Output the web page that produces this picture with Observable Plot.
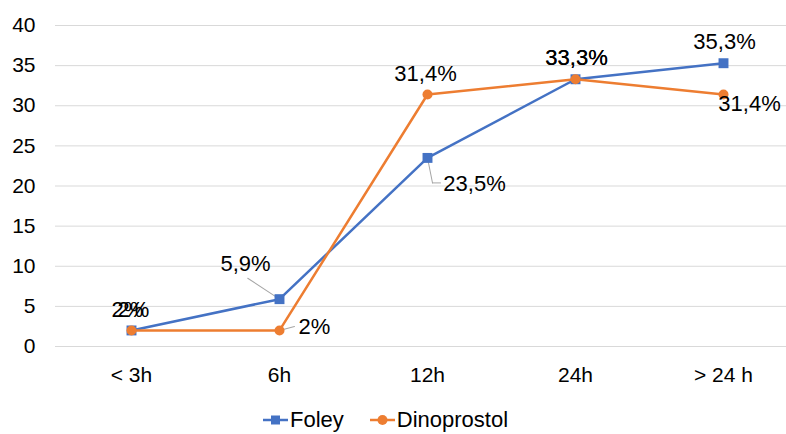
<!DOCTYPE html>
<html>
<head>
<meta charset="utf-8">
<script src="https://cdn.jsdelivr.net/npm/d3@7"></script>
<script src="https://cdn.jsdelivr.net/npm/@observablehq/plot@0.6"></script>
<style>
  body { margin: 0; background: #fff; font-family: "Liberation Sans", Arial, sans-serif; }
  #legend { display: flex; justify-content: center; gap: 26px; margin-top: 8px; margin-right: 15px;
            font-size: 22px; line-height: 24px; color: #000; }
  .item { display: flex; align-items: center; }
  .item svg { margin-right: 2px; }
</style>
</head>
<body>
<div id="chart"></div>
<div id="legend"></div>
<script>
const categories = ["< 3h", "6h", "12h", "24h", "> 24 h"];
const foley = [2, 5.9, 23.5, 33.3, 35.3];
const dinoprostol = [2, 2, 31.4, 33.3, 31.4];
const foleyLabels = ["2%", "5,9%", "23,5%", "33,3%", "35,3%"];
const dinoLabels = ["2%", "2%", "31,4%", "33,3%", "31,4%"];
const yTicks = [0, 5, 10, 15, 20, 25, 30, 35, 40];
const seriesNames = ["Foley", "Dinoprostol"];
const colors = ["#4472C4", "#ED7D31"];

const foleyData = categories.map((c, i) => ({cat: c, v: foley[i], label: foleyLabels[i]}));
const dinoData = categories.map((c, i) => ({cat: c, v: dinoprostol[i], label: dinoLabels[i]}));

// label placement (px offsets from the point)
const foleyOff = [[-4, -20], [-34, -35], [47, 26], [1, -21], [1, -21]];
const dinoOff = [[2, -20], [35, -3], [-2, -21], [1, -21], [26, 9]];

const segShape = {draw(ctx, l) { ctx.moveTo(0, 0); ctx.lineTo(0, -l); }};
const leader = (d, length, rotate, extra = {}) =>
  Plot.vector([d], {x: "cat", y: "v", length, rotate, anchor: "start", shape: segShape,
                    stroke: "#a6a6a6", strokeWidth: 1, ...extra});

const labelMarks = [];
foleyData.forEach((d, i) => labelMarks.push(Plot.text([d], {x: "cat", y: "v", text: "label",
  dx: foleyOff[i][0], dy: foleyOff[i][1], fontSize: 22, fill: "#000"})));
dinoData.forEach((d, i) => labelMarks.push(Plot.text([d], {x: "cat", y: "v", text: "label",
  dx: dinoOff[i][0], dy: dinoOff[i][1], fontSize: 22, fill: "#000"})));

const chart = Plot.plot({
  width: 786,
  height: 400,
  marginLeft: 55,
  marginRight: 0,
  marginTop: 25,
  marginBottom: 54,
  style: {fontFamily: "Liberation Sans, Arial, sans-serif", fontSize: "21px", color: "#000", background: "#fff"},
  x: {type: "point", domain: categories, range: [130, 724], padding: 0, label: null},
  y: {domain: [0, 40], label: null},
  marks: [
    Plot.ruleY(yTicks, {stroke: "#d9d9d9", strokeWidth: 1}),
    Plot.axisY({ticks: yTicks, tickSize: 0, tickPadding: 20, fontSize: 21, label: null}),
    Plot.axisX({tickSize: 0, tickPadding: 21, fontSize: 21, label: null}),
    leader(foleyData[1], 38, -56.7),
    leader(foleyData[2], 25.5, 168.7),
    leader(foleyData[2], 8, 90, {dx: 5, dy: 25}),
    leader(dinoData[1], 15.5, 75),
    Plot.line(foleyData, {x: "cat", y: "v", stroke: colors[0], strokeWidth: 2.5}),
    Plot.dot(foleyData, {x: "cat", y: "v", symbol: "square", r: 5.6, fill: colors[0], stroke: "none"}),
    Plot.line(dinoData, {x: "cat", y: "v", stroke: colors[1], strokeWidth: 2.5}),
    Plot.dot(dinoData, {x: "cat", y: "v", symbol: "circle", r: 5, fill: colors[1], stroke: "none"}),
    ...labelMarks
  ]
});
document.getElementById("chart").append(chart);

const legend = document.getElementById("legend");
seriesNames.forEach((name, i) => {
  const item = document.createElement("div");
  item.className = "item";
  const marker = i === 0
    ? `<rect x="8" y="1.5" width="9" height="9" fill="${colors[i]}"/>`
    : `<circle cx="12.5" cy="6" r="5" fill="${colors[i]}"/>`;
  item.innerHTML = `<svg width="25" height="12"><line x1="0" x2="25" y1="6" y2="6" stroke="${colors[i]}" stroke-width="2.5"/>${marker}</svg><span>${name}</span>`;
  legend.append(item);
});
</script>
</body>
</html>
